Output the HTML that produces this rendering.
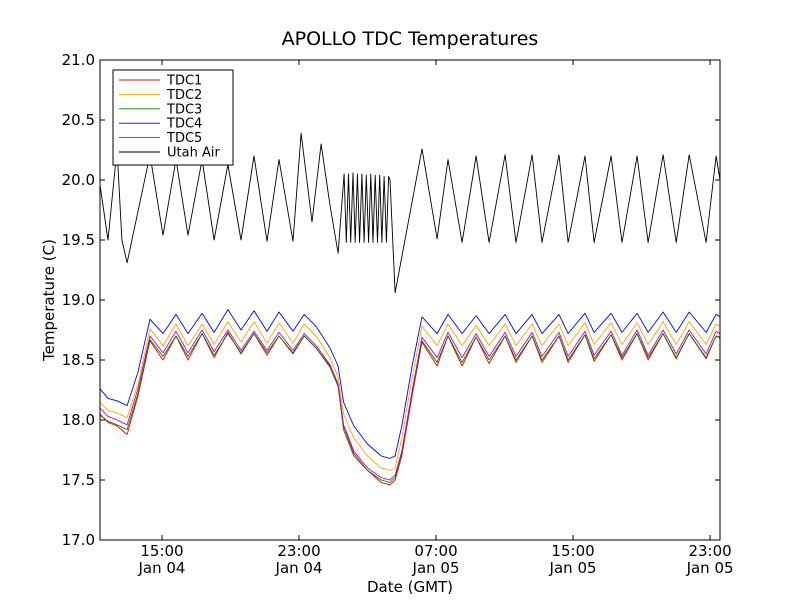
<!DOCTYPE html>
<html><head><meta charset="utf-8"><style>
html,body{margin:0;padding:0;background:#fff;}
svg{display:block;font-family:"DejaVu Sans","Liberation Sans",sans-serif;}
</style></head><body>
<svg id="chart" width="800" height="600" xmlns="http://www.w3.org/2000/svg">
<rect width="800" height="600" fill="#fff"/>
<text x="410" y="45" font-size="19" text-anchor="middle">APOLLO TDC Temperatures</text>
<g id="plot"></g>
<rect x="100" y="60" width="620" height="480" fill="none" stroke="#000" stroke-width="1"/>
<g id="ticks"></g>
<text transform="translate(54,300) rotate(-90)" font-size="15" text-anchor="middle">Temperature (C)</text>
<text x="410" y="592" font-size="15" text-anchor="middle">Date (GMT)</text>
<g id="legend"></g>
</svg>
<script>
// hours since Jan 04 00:00
const airTimes=[11.38,11.85,12.37,12.66,12.96,14.30,15.06,15.82,16.52,17.34,18.04,18.85,19.61,20.37,21.13,21.83,22.65,23.12,23.76,24.29,24.81,25.28,
25.63,25.76,25.89,26.02,26.15,26.28,26.41,26.54,26.67,26.80,26.93,27.06,27.19,27.32,27.45,27.58,27.71,27.84,27.97,28.10,28.23,28.31,
28.61,30.18,31.06,31.70,32.52,33.34,34.10,35.03,35.67,36.61,37.19,38.18,38.71,39.70,40.23,41.22,41.86,42.74,43.38,44.26,45.02,45.78,46.77,47.35,47.58];
const airVals=[19.96,19.50,20.26,19.50,19.31,20.21,19.54,20.17,19.54,20.17,19.50,20.13,19.50,20.20,19.49,20.17,19.49,20.39,19.65,20.30,19.79,19.39,
20.05,19.48,20.05,19.48,20.06,19.48,20.05,19.48,20.05,19.48,20.04,19.48,20.05,19.48,20.04,19.48,20.04,19.48,20.03,19.48,20.03,20.00,
19.06,20.26,19.51,20.17,19.48,20.20,19.48,20.21,19.48,20.21,19.48,20.21,19.48,20.20,19.48,20.20,19.48,20.20,19.48,20.21,19.48,20.21,19.48,20.20,20.00];
const tdcTimes=[11.38,11.85,12.37,12.96,13.6,14.30,15.06,15.82,16.52,17.34,18.04,18.85,19.61,20.37,21.13,21.83,22.65,23.30,24.0,24.81,25.28,25.6,26.2,27.0,27.8,28.3,28.61,29.0,29.6,30.18,
31.06,31.70,32.52,33.34,34.10,35.03,35.67,36.61,37.19,38.18,38.71,39.70,40.23,41.22,41.86,42.74,43.38,44.26,45.02,45.78,46.77,47.35,47.58];
const tdc4=[18.26,18.18,18.16,18.12,18.4,18.84,18.72,18.88,18.72,18.89,18.73,18.92,18.75,18.91,18.74,18.90,18.74,18.88,18.78,18.6,18.45,18.15,17.95,17.8,17.7,17.68,17.7,17.95,18.45,18.86,
18.72,18.88,18.72,18.87,18.72,18.88,18.72,18.88,18.72,18.88,18.72,18.89,18.73,18.89,18.73,18.89,18.73,18.90,18.73,18.90,18.73,18.88,18.86];
const tdc2=[18.15,18.08,18.06,18.02,18.3,18.76,18.62,18.80,18.62,18.80,18.63,18.82,18.65,18.82,18.64,18.81,18.64,18.80,18.70,18.52,18.36,18.05,17.85,17.70,17.60,17.58,17.60,17.85,18.35,18.78,
18.62,18.80,18.62,18.79,18.62,18.80,18.62,18.80,18.62,18.80,18.62,18.81,18.63,18.81,18.63,18.81,18.63,18.82,18.63,18.82,18.63,18.80,18.78];
const tdc1=[18.05,17.98,17.95,17.88,18.2,18.66,18.50,18.70,18.50,18.72,18.52,18.73,18.55,18.72,18.54,18.70,18.55,18.70,18.60,18.45,18.30,17.95,17.72,17.58,17.48,17.46,17.50,17.70,18.20,18.65,
18.45,18.70,18.45,18.69,18.47,18.70,18.48,18.70,18.48,18.70,18.48,18.71,18.49,18.71,18.50,18.72,18.50,18.72,18.51,18.72,18.51,18.70,18.68];
const tdc3=[18.04,17.99,17.96,17.92,18.22,18.67,18.53,18.70,18.53,18.72,18.54,18.72,18.56,18.72,18.56,18.70,18.56,18.70,18.60,18.44,18.28,17.92,17.70,17.58,17.50,17.48,17.52,17.72,18.22,18.66,
18.48,18.70,18.48,18.69,18.50,18.70,18.50,18.70,18.50,18.70,18.50,18.71,18.51,18.71,18.52,18.72,18.52,18.72,18.52,18.72,18.52,18.70,18.69];
const tdc5=[18.10,18.03,18.00,17.96,18.26,18.70,18.56,18.74,18.56,18.75,18.57,18.75,18.58,18.74,18.58,18.73,18.58,18.72,18.62,18.46,18.30,17.96,17.74,17.60,17.52,17.50,17.54,17.74,18.24,18.69,
18.52,18.73,18.52,18.72,18.53,18.73,18.53,18.73,18.53,18.73,18.53,18.74,18.54,18.74,18.54,18.75,18.54,18.75,18.55,18.75,18.55,18.74,18.72];
const yTicks=[17.0,17.5,18.0,18.5,19.0,19.5,20.0,20.5,21.0];
const xTickHours=[15,23,31,39,47];
const xTickTimes=["15:00","23:00","07:00","15:00","23:00"];
const xTickDates=["Jan 04","Jan 04","Jan 05","Jan 05","Jan 05"];
const seriesNames=["TDC1","TDC2","TDC3","TDC4","TDC5","Utah Air"];
const seriesColors=["#ff0000","#ffa500","#008000","#0000ff","#bf00bf","#000000"];

const X0=100,X1=720,Y0=540,Y1=60,T0=11.38,T1=47.58,V0=17,V1=21;
function xs(t){return X0+(t-T0)/(T1-T0)*(X1-X0);}
function ys(v){return Y0-(v-V0)/(V1-V0)*(Y0-Y1);}
const NS="http://www.w3.org/2000/svg";
function mk(tag,attrs,parent){const e=document.createElementNS(NS,tag);for(const k in attrs)e.setAttribute(k,attrs[k]);parent.appendChild(e);return e;}
const plot=document.getElementById('plot');
const data=[[tdcTimes,tdc1],[tdcTimes,tdc2],[tdcTimes,tdc3],[tdcTimes,tdc4],[tdcTimes,tdc5],[airTimes,airVals]];
const order=[3,1,0,2,4,5];
order.forEach(i=>{
  const [ts,vs]=data[i];
  const pts=ts.map((t,j)=>xs(t).toFixed(1)+','+ys(vs[j]).toFixed(1)).join(' ');
  const pl=mk('polyline',{points:pts,fill:'none',stroke:seriesColors[i],'stroke-width':0.9,'stroke-linejoin':'round'},plot);
  
  
});
const tk=document.getElementById('ticks');
yTicks.forEach(v=>{
  const y=ys(v);
  mk('line',{x1:X0,x2:X0+5,y1:y,y2:y,stroke:'#000'},tk);
  mk('line',{x1:X1,x2:X1-5,y1:y,y2:y,stroke:'#000'},tk);
  const t=mk('text',{x:X0-5,y:y+5,'font-size':15,'text-anchor':'end'},tk);
  t.textContent=v.toFixed(1);
  
  
});
xTickHours.forEach((h,i)=>{
  const x=xs(h);
  mk('line',{x1:x,x2:x,y1:Y0,y2:Y0-5,stroke:'#000'},tk);
  mk('line',{x1:x,x2:x,y1:Y1,y2:Y1+5,stroke:'#000'},tk);
  const t=mk('text',{x:x,y:556,'font-size':15,'text-anchor':'middle'},tk);
  t.textContent=xTickTimes[i];
  
  
  const d=mk('text',{x:x,y:573,'font-size':15,'text-anchor':'middle'},tk);
  d.textContent=xTickDates[i];
  
  
});
const lg=document.getElementById('legend');
mk('rect',{x:113,y:70,width:120,height:95,fill:'#fff',stroke:'#000'},lg);
seriesNames.forEach((n,i)=>{
  const y=80+i*14.4;
  const g=mk('g',{},lg);
  
  
  mk('line',{x1:119,x2:160,y1:y,y2:y,stroke:seriesColors[i],'stroke-width':0.9},g);
  const t=mk('text',{x:167,y:y+4.5,'font-size':13},g);
  t.textContent=n;
});
</script>
</body></html>
